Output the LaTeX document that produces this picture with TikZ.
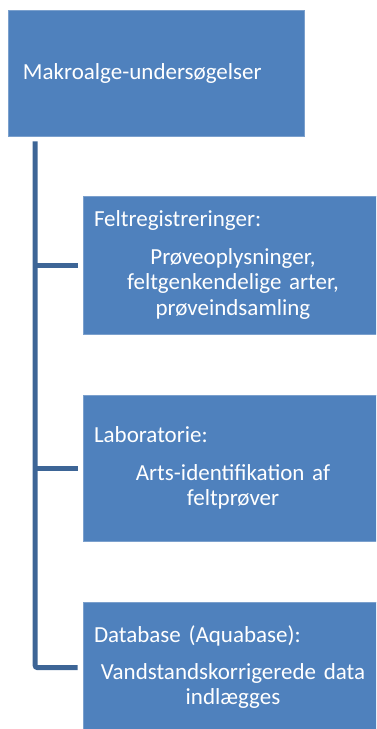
\documentclass[tikz,border=0pt]{standalone}
\usepackage{fontspec}
\setmainfont{Carlito}
\usepackage{tikz}
\usetikzlibrary{calc}
\definecolor{boxblue}{HTML}{4F81BD}
\definecolor{linkblue}{HTML}{3D6596}

\begin{document}
\begin{tikzpicture}[x=1pt, y=-1pt,
    blok/.style={rectangle, fill=boxblue, draw=white!25!boxblue, line width=0.6pt,
      text=white, font=\fontsize{23}{25.5}\selectfont, inner ysep=0pt},
    underblok/.style={blok, minimum width=300, inner xsep=11, text width=278, align=center},
    link/.style={draw=linkblue, line width=5pt, rounded corners=2pt}]
    \useasboundingbox (0,0) rectangle (376,729);
    \clip (0,0) rectangle (376,729);
    \node[blok, minimum width=296, minimum height=126, inner xsep=15, text width=266, align=left]
      (makro) at (156,73) {Makroalge-undersøgelser};
    \node[underblok, minimum height=138] (felt) at (233,265)
      {\makebox[278pt][l]{Feltregistreringer:}\\[12pt]
       Prøveoplysninger,\\ feltgenkendelige arter,\\ prøveindsamling};
    \node[underblok, minimum height=146] (lab) at (233,468)
      {\makebox[278pt][l]{Laboratorie:}\\[12pt]
       Arts-identifikation af\\ feltprøver};
    \node[underblok, minimum height=131] (data) at (233,667.5)
      {\makebox[278pt][l]{Database (Aquabase):}\\[11pt]
       Vandstandskorrigerede data\\ indlægges};
    \coordinate (stamme) at ($(makro.south west)+(27.5,5)$);
    \draw[link] (stamme) |- ($(data.west)+(-5,0)$);
    \draw[link] (stamme |- felt.west) -- ($(felt.west)+(-5,0)$);
    \draw[link] (stamme |- lab.west) -- ($(lab.west)+(-5,0)$);
\end{tikzpicture}
\end{document}
